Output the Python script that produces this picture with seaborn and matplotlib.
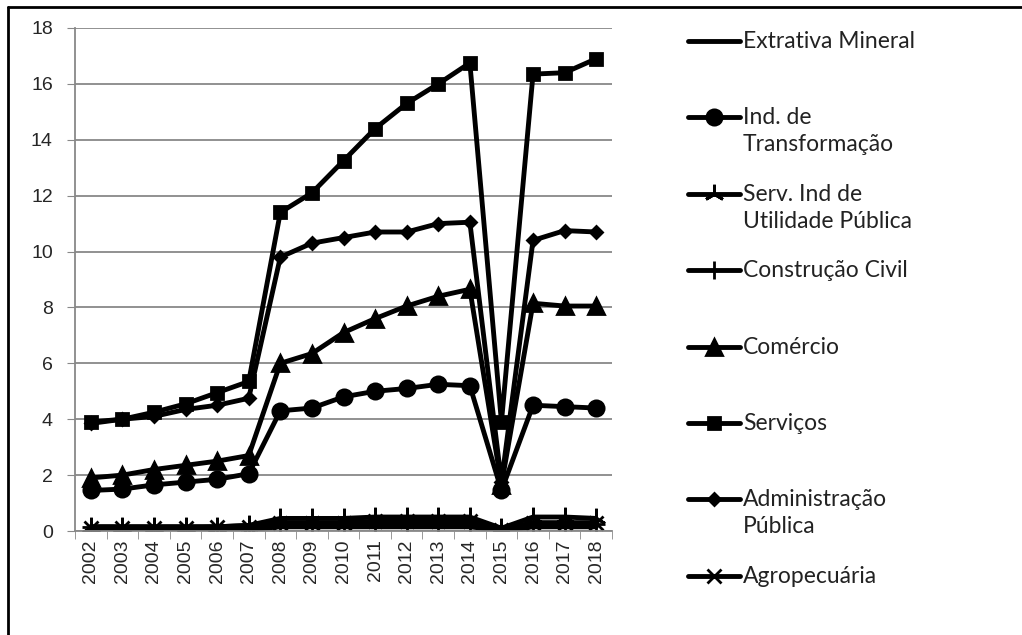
import matplotlib
matplotlib.use("Agg")
import matplotlib.pyplot as plt
from matplotlib.lines import Line2D
import seaborn as sns
import pandas as pd

# anos e séries (% por setor)
years = list(range(2002, 2019))

extrativa = [0.05, 0.05, 0.05, 0.05, 0.05, 0.05, 0.15, 0.15, 0.15, 0.15, 0.15, 0.15, 0.15, 0.02, 0.15, 0.15, 0.15]
ind_transf = [1.45, 1.5, 1.65, 1.75, 1.85, 2.05, 4.3, 4.4, 4.8, 5.0, 5.1, 5.25, 5.2, 1.45, 4.5, 4.45, 4.4]
serv_ind = [0.15, 0.15, 0.15, 0.15, 0.15, 0.2, 0.45, 0.45, 0.45, 0.5, 0.5, 0.5, 0.5, 0.1, 0.5, 0.5, 0.45]
construcao = [0.15, 0.15, 0.15, 0.15, 0.15, 0.2, 0.25, 0.25, 0.25, 0.3, 0.3, 0.3, 0.3, 0.1, 0.25, 0.25, 0.25]
comercio = [1.9, 2.0, 2.2, 2.35, 2.5, 2.7, 6.0, 6.35, 7.1, 7.6, 8.05, 8.4, 8.65, 1.65, 8.15, 8.05, 8.05]
servicos = [3.9, 4.0, 4.25, 4.55, 4.95, 5.35, 11.4, 12.1, 13.25, 14.4, 15.3, 16.0, 16.75, 3.9, 16.35, 16.4, 16.9]
adm_publica = [3.85, 4.0, 4.1, 4.35, 4.5, 4.75, 9.8, 10.3, 10.5, 10.7, 10.7, 11.0, 11.05, 1.75, 10.4, 10.75, 10.7]
agro = [0.1, 0.1, 0.1, 0.1, 0.15, 0.15, 0.3, 0.3, 0.3, 0.35, 0.35, 0.35, 0.35, 0.05, 0.3, 0.3, 0.3]

labels = ["Extrativa Mineral", "Ind. de\nTransformação", "Serv. Ind de\nUtilidade Pública",
          "Construção Civil", "Comércio", "Serviços", "Administração\nPública", "Agropecuária"]
series = [extrativa, ind_transf, serv_ind, construcao, comercio, servicos, adm_publica, agro]

# marcador e tamanho de cada série
styles = [
    (None, 0),
    ("o", 11),
    ((3, 2, 0), 14),
    ("+", 13),
    ("^", 11),
    ("s", 9),
    ("D", 6),
    ("x", 10),
]

sns.set_style("white")
plt.rcParams["font.family"] = ["Liberation Sans", "DejaVu Sans"]

fig = plt.figure(figsize=(10.22, 6.35), dpi=100)
ax = fig.add_axes([75 / 1022, 1 - 531 / 635, 537 / 1022, 503 / 635])

lines = []
for vals, (mk, ms) in zip(series, styles):
    df = pd.DataFrame({"ano": years, "valor": vals})
    sns.lineplot(data=df, x="ano", y="valor", ax=ax, color="black", lw=3.5,
                 marker=mk, markersize=ms, markeredgewidth=2, markeredgecolor="black")
    lines.append(ax.lines[-1])

ax.set_xlim(2001.5, 2018.5)
ax.set_ylim(0, 18)
ax.set_yticks(range(0, 19, 2))
ax.set_xticks(years)
ax.set_xticks([y + 0.5 for y in range(2001, 2019)], minor=True)
ax.set_xticklabels([str(y) for y in years], rotation=90, fontsize=14)
ax.tick_params(axis="y", labelsize=14, length=6, color="#888888", left=True, pad=10)
ax.tick_params(axis="x", which="major", length=0, pad=6)
ax.tick_params(axis="x", which="minor", length=6, color="#888888", bottom=True)
ax.set_xlabel("")
ax.set_ylabel("")
ax.grid(axis="y", color="#888888", lw=1.3)
ax.set_axisbelow(True)
for side in ["top", "right"]:
    ax.spines[side].set_visible(False)
for side in ["left", "bottom"]:
    ax.spines[side].set_color("#888888")
    ax.spines[side].set_linewidth(1.3)

# legenda à direita, entradas espaçadas como no original
for i, (lab, ln) in enumerate(zip(labels, lines)):
    ypx = 41 + 76.4 * i
    y = 1 - ypx / 635
    h = Line2D([688 / 1022, 714 / 1022, 740 / 1022], [y, y, y], transform=fig.transFigure,
               color="black", lw=3.5, marker=ln.get_marker(), markersize=ln.get_markersize(),
               markeredgewidth=2, markevery=[1])
    fig.add_artist(h)
    fig.text(743 / 1022, y + 10 / 635, lab, va="top", ha="left", fontsize=16.5,
             family=["Lato", "DejaVu Sans"], color="#222222", linespacing=1.35)

# moldura
fig.add_artist(Line2D([8 / 1022, 1], [1 - 7 / 635, 1 - 7 / 635], transform=fig.transFigure, color="black", lw=2))
fig.add_artist(Line2D([8 / 1022, 8 / 1022], [0, 1 - 7 / 635], transform=fig.transFigure, color="black", lw=2))

fig.savefig("out.png", dpi=100)
